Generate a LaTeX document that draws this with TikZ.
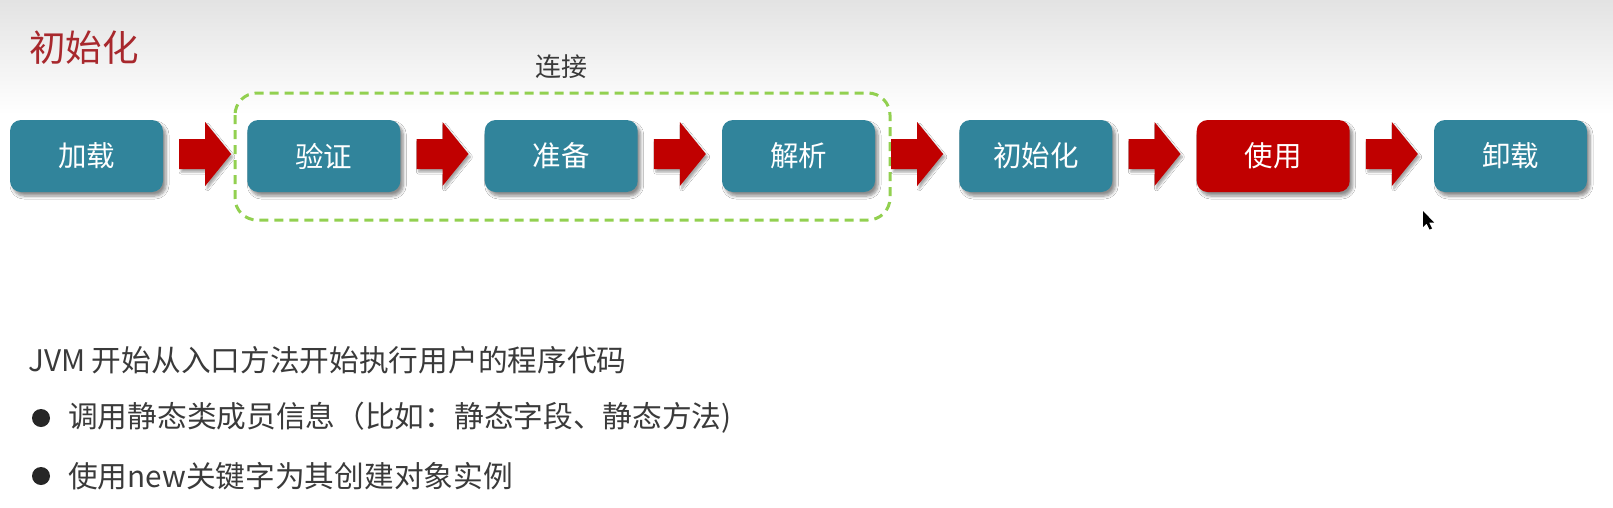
\documentclass[tikz,border=0pt]{standalone}
\usepackage{fontspec}
\newfontfamily\cjk{Noto Sans CJK SC}
\usetikzlibrary{calc,shadows,shadows.blur}
\definecolor{boxteal}{HTML}{31849B}
\definecolor{boxred}{HTML}{C00000}
\definecolor{titlered}{HTML}{A8282D}
\definecolor{dashgreen}{HTML}{92D050}
\definecolor{bodytext}{HTML}{3A3A3A}
\tikzset{
  stage/.style={rounded corners=11pt, minimum width=153pt, minimum height=72pt,
    inner sep=0pt, text=white, font=\cjk\fontsize{28.5}{34}\selectfont,
    blur shadow={shadow xshift=3pt, shadow yshift=-4pt, shadow opacity=45,
      shadow blur steps=6, shadow blur radius=3pt}},
  tealstage/.style={stage, fill=boxteal},
  redstage/.style={stage, fill=boxred},
  flowarrow/.style={fill=boxred, blur shadow={shadow xshift=2pt, shadow yshift=-3pt,
      shadow opacity=35, shadow blur steps=5, shadow blur radius=2pt}},
  groupframe/.style={draw=dashgreen, line width=3pt, dash pattern=on 9pt off 6pt,
    rounded corners=22pt},
  titletext/.style={anchor=west, inner sep=0pt, text=titlered, font=\cjk\fontsize{36.5}{42}\selectfont},
  grouplabel/.style={inner sep=0pt, text=bodytext, font=\cjk\fontsize{26}{30}\selectfont},
  bodyline/.style={anchor=west, inner sep=0pt, text=bodytext, font=\cjk\fontsize{29.7}{34}\selectfont},
  bulletdot/.style={circle, fill=black!85, minimum size=18pt, inner sep=0pt},
}
\newcommand\flowblock[2]{%
  \fill[flowarrow] ($(#1.east)!0.5!(#2.west)$) ++(-26,-17) -- ++(26,0) -- ++(0,-17)
    -- ++(26,32) -- ++(-26,32) -- ++(0,-17) -- ++(-26,0) -- cycle;}
\begin{document}
\begin{tikzpicture}[x=1pt, y=-1pt]
  \useasboundingbox (0,0) rectangle (1613,507);
  \fill[white] (0,0) rectangle (1613,507);
  \shade[top color=black!11, bottom color=white] (0,0) rectangle (1613,115);

  \node[titletext] (title) at (29,48) {初始化};

  \draw[groupframe] (235,93) rectangle (890,220);
  \node[grouplabel] (lianjie) at (561,67) {连接};

  \node[tealstage] (s1) at (86.5,156) {加载};
  \node[tealstage] (s2) at (323.8,156) {验证};
  \node[tealstage] (s3) at (561.2,156) {准备};
  \node[tealstage] (s4) at (798.5,156) {解析};
  \node[tealstage] (s5) at (1035.8,156) {初始化};
  \node[redstage]  (s6) at (1273.2,156) {使用};
  \node[tealstage] (s7) at (1510.5,156) {卸载};

  \flowblock{s1}{s2}
  \flowblock{s2}{s3}
  \flowblock{s3}{s4}
  \flowblock{s4}{s5}
  \flowblock{s5}{s6}
  \flowblock{s6}{s7}

  \node[bodyline] (l1) at (28,360) {JVM 开始从入口方法开始执行用户的程序代码};
  \node[bulletdot] (b1) at (41,418) {};
  \node[bodyline] (l2) at (68,418) {调用静态类成员信息（比如：静态字段、静态方法)};
  \node[bulletdot] (b2) at (41,476) {};
  \node[bodyline] (l3) at (68,476) {使用new关键字为其创建对象实例};

  \fill[black] (1423,211) -- ++(0,16) -- ++(3.5,-3.5) -- ++(3,6) -- ++(2.5,-1)
    -- ++(-3,-6) -- ++(5,0) -- cycle;
\end{tikzpicture}
\end{document}
